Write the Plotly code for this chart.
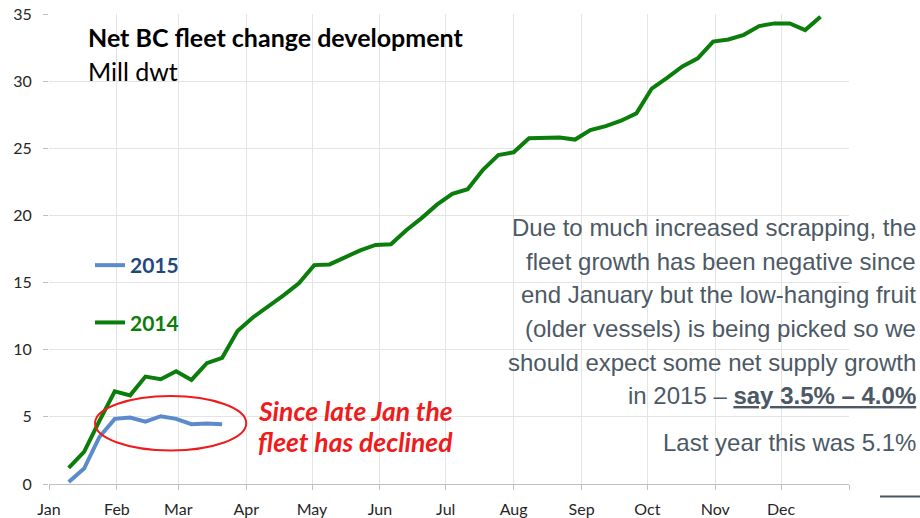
import plotly.graph_objects as go
import pandas as pd

# weekly dates (Fridays), plotted on a Jan-Dec axis
dates_2014 = pd.date_range("2014-01-10", periods=50, freq="7D")
fleet_2014 = [1.2, 2.4, 4.7, 6.9, 6.6, 8.0, 7.8, 8.4, 7.75, 9.0,
              9.4, 11.4, 12.4, 13.2, 14.05, 14.95, 16.3, 16.35, 16.9, 17.4,
              17.8, 17.85, 18.9, 19.8, 20.8, 21.6, 21.95, 23.4, 24.5, 24.7,
              25.75, 25.75, 25.8, 25.65, 26.35, 26.65, 27.05, 27.6, 29.45, 30.25,
              31.1, 31.7, 32.95, 33.1, 33.45, 34.1, 34.3, 34.3, 33.8, 34.8]
fleet_2015 = [0.15, 1.15, 3.5, 4.85, 4.95, 4.65, 5.05, 4.85, 4.45, 4.5, 4.45]
dates_2015 = dates_2014[:len(fleet_2015)]

month_ticks = list(pd.date_range("2014-01-01", "2015-01-01", freq="MS"))
month_labels = ["Jan", "Feb", "Mar", "Apr", "May", "Jun", "Jul", "Aug",
                "Sep", "Oct", "Nov", "Dec", ""]
y_ticks = [0, 5, 10, 15, 20, 25, 30, 35]

GREEN = "#0b7d0b"
BLUE = "#5b8bcb"
NAVY = "#1f497d"
GRAY_TXT = "#4c5965"
RED = "#ee1c1c"

fig = go.Figure()
fig.add_trace(go.Scatter(
    x=dates_2014, y=fleet_2014, mode="lines",
    line=dict(color=GREEN, width=4),
    name="<b><span style='color:%s'>2014</span></b>" % GREEN,
    legendgroup="a", legendrank=2))
fig.add_trace(go.Scatter(
    x=dates_2015, y=fleet_2015, mode="lines",
    line=dict(color=BLUE, width=4),
    name="<b><span style='color:%s'>2015</span></b>" % NAVY,
    legendgroup="b", legendrank=1))

# ellipse around the 2015 plateau
fig.add_shape(type="circle", xref="x", yref="y",
              x0="2014-01-22", x1="2014-04-01", y0=2.5, y1=6.55,
              line=dict(color=RED, width=2))


def px(xp):
    return (xp - 49) / 800


def py(yp):
    return (484 - yp) / 470


# small decoration line bottom-right
fig.add_shape(type="line", xref="paper", yref="paper",
              x0=px(880), x1=px(920), y0=py(496.5), y1=py(496.5),
              line=dict(color="#4a5663", width=2))

ann = []
ann.append(dict(x=px(86), y=py(37), xanchor="left", yanchor="middle",
                text="<b>Net BC fleet change development</b>",
                font=dict(family="Lato", size=25, color="#000000")))
ann.append(dict(x=px(86), y=py(71), xanchor="left", yanchor="middle",
                text="Mill dwt",
                font=dict(family="Lato", size=25, color="#000000")))
ann.append(dict(x=px(256), y=py(411), xanchor="left", yanchor="middle",
                text="<b><i>Since late Jan the</i></b>",
                font=dict(family="Lato", size=26.5, color=RED)))
ann.append(dict(x=px(256), y=py(442), xanchor="left", yanchor="middle",
                text="<b><i>fleet has declined</i></b>",
                font=dict(family="Lato", size=26.5, color=RED)))

para = ["Due to much increased scrapping, the",
        "fleet growth has been negative since",
        "end January but the low-hanging fruit",
        "(older vessels) is being picked so we",
        "should expect some net supply growth",
        "in 2015 \u2013 <b><u>say 3.5% \u2013 4.0%</u></b>"]
para_y = [227, 261, 294, 328, 362, 395]
for t, yy in zip(para, para_y):
    ann.append(dict(x=px(918), y=py(yy), xanchor="right", yanchor="middle",
                    text=t,
                    font=dict(family="Liberation Sans", size=24, color=GRAY_TXT)))
ann.append(dict(x=px(918), y=py(442), xanchor="right", yanchor="middle",
                text="Last year this was 5.1%",
                font=dict(family="Liberation Sans", size=24, color=GRAY_TXT)))

for a in ann:
    a.update(xref="paper", yref="paper", showarrow=False)

fig.update_layout(
    width=920, height=518,
    margin=dict(l=49, r=71, t=14, b=34, autoexpand=False),
    paper_bgcolor="white", plot_bgcolor="white",
    annotations=ann,
    showlegend=True,
    legend=dict(x=px(90), y=py(245), xanchor="left", yanchor="top",
                bgcolor="rgba(0,0,0,0)", tracegroupgap=27,
                itemwidth=30,
                font=dict(family="Lato", size=21)),
    xaxis=dict(type="date", range=["2014-01-01", "2015-01-01"],
               tickvals=month_ticks, ticktext=month_labels,
               showgrid=True, gridcolor="#e4e4e4", gridwidth=1,
               showline=True, linecolor="#bfbfbf", linewidth=1,
               ticks="outside", ticklen=5, tickcolor="#bfbfbf",
               ticklabelstandoff=6, automargin=False,
               tickfont=dict(family="Lato", size=16, color="#262626"),
               zeroline=False),
    yaxis=dict(range=[0, 35], tickvals=y_ticks,
               showgrid=True, gridcolor="#e4e4e4", gridwidth=1,
               showline=False, automargin=False,
               ticks="outside", ticklen=5, tickcolor="#bfbfbf",
               ticklabelstandoff=8,
               tickfont=dict(family="Lato", size=16, color="#262626"),
               zeroline=False),
)

fig.write_html("out.html",
               config={"displayModeBar": False},
               post_script="document.body.style.margin='0';")
